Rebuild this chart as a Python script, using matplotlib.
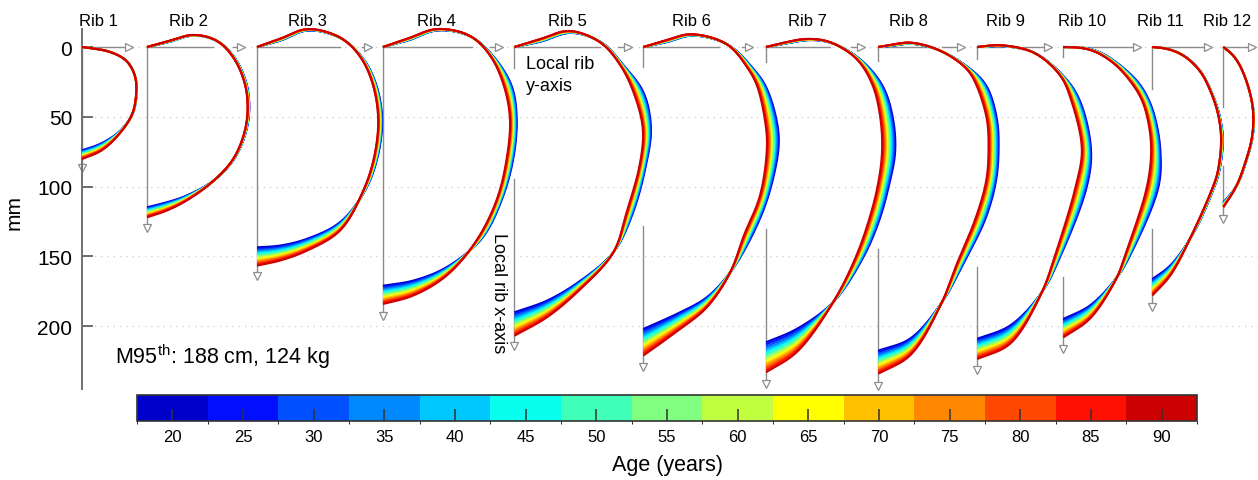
import numpy as np
import matplotlib
matplotlib.use("Agg")
import matplotlib.pyplot as plt
from matplotlib.colors import ListedColormap, BoundaryNorm
from matplotlib.colorbar import ColorbarBase

plt.rcParams['font.family'] = ['Liberation Sans', 'DejaVu Sans']
plt.rcParams['mathtext.fontset'] = 'custom'
plt.rcParams['mathtext.rm'] = 'Liberation Sans'
plt.rcParams['mathtext.it'] = 'Liberation Sans:italic'

# ---------------- data ----------------
AGES = [20, 25, 30, 35, 40, 45, 50, 55, 60, 65, 70, 75, 80, 85, 90]
AGE_COLORS = ['#0000CC', '#0010FF', '#0050FF', '#0088FF', '#00C8FF',
              '#08FFF0', '#40FFB8', '#80FF80', '#C0FF40', '#FFFF00',
              '#FFC000', '#FF8800', '#FF4800', '#FF1000', '#CC0000']
RIB_NAMES = ['Rib 1', 'Rib 2', 'Rib 3', 'Rib 4', 'Rib 5', 'Rib 6',
             'Rib 7', 'Rib 8', 'Rib 9', 'Rib 10', 'Rib 11', 'Rib 12']
Y_TICKS = [0, 50, 100, 150, 200]
SUBJECT = r'M95$^{\mathrm{th}}$: 188 cm, 124 kg'

# rib outlines in local rib coords (local y [mm] -> right, local x [mm] -> down)
# youngest (20 y) and oldest (90 y) shapes
RIB1_YOUNG = [(0, 0), (10.5, 1.4), (20, 3.4), (32, 9.8), (38, 20.5), (39.2, 30), (36.8, 46.8), (27, 60.5), (13, 69.5), (0, 74)]
RIB1_OLD = [(0, 0), (10.5, 1.4), (20, 3.4), (32, 9.8), (38, 20.5), (39.0, 30), (36.3, 47.5), (27, 62), (14, 74.3), (0, 80.2)]

RIB2_YOUNG = [(0, 0), (16, -3.6), (33, -8.4), (50, -4.5), (62.5, 7.2), (71, 25.3), (73.3, 43.2), (70.8, 61.1), (62.5, 80.2), (48, 95.5), (28.4, 106.5), (14, 111.3), (0, 114.8)]
RIB2_OLD = [(0, 0), (16, -4.4), (32.7, -8.8), (50, -4.6), (61.8, 7.4), (69.8, 25.3), (72.1, 43.2), (69.8, 61.1), (61.8, 80.2), (47.3, 96.2), (28.4, 110), (14, 117.3), (0, 122)]

RIB3_YOUNG = [(0, 0), (18, -5), (36, -12), (59.5, -6.6), (74.3, 6), (84.8, 25.3), (89.6, 51.6), (86, 80.2), (77, 103.5), (59.5, 125.6), (35.6, 137.5), (16.5, 142.3), (0, 143.5)]
RIB3_OLD = [(0, 0), (18, -6.5), (35.6, -13), (59.5, -6.9), (73.5, 6.3), (82.5, 25.3), (86.8, 51.6), (83.6, 80.2), (75.4, 104.5), (59.5, 131.6), (35.6, 146), (16.5, 153), (0, 156.6)]

RIB4_YOUNG = [(0, 0), (19, -5), (38.5, -12), (62.3, -7.8), (78.3, 5.8), (92.2, 27.7), (95.8, 51.6), (93.3, 80.2), (85.3, 108.9), (71, 137), (45.6, 157.8), (21.7, 167.4), (0, 171)]
RIB4_OLD = [(0, 0), (19, -6.5), (38.2, -13), (62.3, -8.1), (77, 6.4), (86.6, 27.7), (91, 51.6), (88.6, 80.2), (81.7, 108.9), (67.4, 138), (45.6, 163.8), (21.7, 178.1), (0, 184.1)]

RIB5_YOUNG = [(0, 0), (19.5, -4), (40, -10.3), (62.5, -3.3), (77.5, 12.5), (92.5, 32.5), (97.8, 58.7), (94.1, 85), (85, 118.4), (71, 147), (47.3, 167.4), (23.4, 181.7), (0, 190)]
RIB5_OLD = [(0, 0), (19.5, -6), (38.9, -11.7), (61.6, -3.3), (75.9, 13.1), (85.3, 32.5), (92, 58.7), (89.6, 85), (80.3, 118.4), (71, 147), (47.3, 173.4), (23.4, 193.6), (0, 206.8)]

RIB6_YOUNG = [(0, 0), (17, -3.5), (35, -8.3), (61, -1.5), (78.5, 15.3), (87.5, 27.7), (95.3, 51.6), (97, 70.7), (89.6, 106.5), (78.2, 134.5), (62.3, 161.4), (45.6, 179.3), (26.5, 190), (0, 202)]
RIB6_OLD = [(0, 0), (17, -5), (33.6, -9.3), (60, -2), (75.5, 16.3), (81.5, 27.7), (87, 51.6), (88.6, 70.7), (83.6, 106.5), (72.2, 134.5), (62.3, 161.4), (45.6, 186.5), (26.5, 202), (0, 221)]

RIB7_YOUNG = [(0, 0), (14.5, -2.5), (30, -5), (45.8, -3.3), (66.5, 8), (83.5, 27.7), (91, 51.6), (92.5, 75.5), (88, 99.4), (81.5, 123), (70, 150), (48.2, 182.7), (22, 202), (0, 211.5)]
RIB7_OLD = [(0, 0), (14.5, -3.5), (29.1, -5.9), (45.8, -3.6), (65, 8.6), (76.5, 27.7), (82, 51.6), (83.1, 75.5), (80, 99.4), (74, 123), (64.5, 150), (48.2, 182.7), (22, 218.7), (0, 233)]

RIB8_YOUNG = [(0, 0), (11.5, -1), (23, -2.5), (44.4, 2.6), (65, 15), (77.5, 27.7), (85, 51.6), (86.2, 70.7), (84.5, 95), (76.8, 123), (61, 155), (45.6, 182.9), (22.9, 209), (0, 217.5)]
RIB8_OLD = [(0, 0), (11.5, -2), (22.9, -3.3), (44.4, 2.6), (63.5, 15.8), (70.5, 27.7), (77.8, 51.6), (79, 70.7), (77.5, 95), (69.6, 123), (56.4, 155), (45.6, 182.9), (22.9, 221), (0, 234)]

RIB9_YOUNG = [(0, 0), (8, -0.3), (16.3, -0.8), (40.3, 3.8), (61, 20), (73, 37.2), (81.5, 73), (78.5, 100), (59.5, 150), (46.3, 175.7), (23.6, 199.6), (0, 209)]
RIB9_OLD = [(0, 0), (8, -1), (16.3, -1.4), (40.3, 3.8), (59.5, 20.4), (67, 37.2), (75, 73), (70.5, 100), (55.5, 150), (46.3, 175.7), (23.6, 212.7), (0, 223.5)]

RIB10_YOUNG = [(0, 0), (10, 0.1), (19, 1.3), (27, 4), (40, 12.5), (53.5, 25), (61, 37.2), (66, 51.6), (69.5, 73), (68.3, 100), (47.5, 150), (38.5, 165), (19.1, 185.3), (0, 194.8)]
RIB10_OLD = [(0, 0), (10, 0.3), (19, 1.9), (26.3, 5), (38.2, 13.4), (49.5, 26.5), (56, 37.2), (60.5, 51.6), (63, 73), (60, 100), (44, 150), (38.5, 165), (19.1, 194.8), (0, 208)]

RIB11_YOUNG = [(0, 0), (10.3, 1.1), (22.2, 5.8), (34.2, 16.8), (41.5, 30), (47.6, 46.8), (50.6, 65.9), (47.8, 89.8), (44.5, 100), (29.8, 132.8), (12.9, 156.6), (0, 166.2)]
RIB11_OLD = [(0, 0), (10.3, 1.2), (22.2, 6), (34, 17), (41, 30), (46.8, 46.8), (49.3, 65.9), (46.8, 89.8), (43.5, 100), (28.8, 133.5), (12.9, 163.8), (0, 178)]

RIB12_YOUNG = [(0, 0), (6.2, 5), (12, 13.4), (19, 32.5), (21.9, 49.2), (20.7, 65.9), (16.9, 80.2), (9.7, 99.3), (0, 111.3)]
RIB12_OLD = [(0, 0), (6.2, 5), (12, 13.4), (19, 32.5), (21.5, 49.2), (20.3, 65.9), (16.5, 80.2), (9.3, 99.8), (0, 114.8)]

RIBS_YOUNG = [RIB1_YOUNG, RIB2_YOUNG, RIB3_YOUNG, RIB4_YOUNG, RIB5_YOUNG, RIB6_YOUNG,
              RIB7_YOUNG, RIB8_YOUNG, RIB9_YOUNG, RIB10_YOUNG, RIB11_YOUNG, RIB12_YOUNG]
RIBS_OLD = [RIB1_OLD, RIB2_OLD, RIB3_OLD, RIB4_OLD, RIB5_OLD, RIB6_OLD,
            RIB7_OLD, RIB8_OLD, RIB9_OLD, RIB10_OLD, RIB11_OLD, RIB12_OLD]

# ---------------- layout (mm in plot coordinates) ----------------
RIB_ORIGIN_X = [0, 46.6, 125.4, 215.6, 309.8, 402.1, 490.0, 570.4, 641.3, 702.9, 766.7, 817.6]
RIB_LABEL_X = [11.5, 76.0, 161.5, 254.1, 347.8, 436.9, 519.3, 591.7, 661.2, 716.1, 772.8, 820.6]
H_AXIS_LEN = [36.5, 70.2, 82.2, 86.0, 84.0, 79.0, 70.9, 62.3, 53.5, 55.7, 42.8, 23.6]
H_AXIS_GAP = [None, (47.3, 61.6), (59.5, 75.0), (63.5, 76.6), (61.2, 74.1), (53.9, 70.7),
              (45.8, 61.1), (34.9, 45.6), (18.6, 33.0), None, None, None]
V_AXIS_LEN = [89.5, 132.5, 167.4, 196.0, 217.5, 231.9, 244.5, 245.7, 234.2, 219.4, 189.3, 126.1]
V_AXIS_GAP = [None, None, None, None, (15.0, 94.6), (14.5, 128.0), (11.0, 130.4), (9.8, 144.7),
              (8.6, 157.8), (7.2, 165.0), (30.0, 130.4), (43.2, 85.0)]


def catmull_centripetal(points, n=24, alpha=0.5):
    P = np.asarray(points, float)
    P = np.vstack([2 * P[0] - P[1], P, 2 * P[-1] - P[-2]])
    out = []
    for i in range(1, len(P) - 2):
        p0, p1, p2, p3 = P[i - 1], P[i], P[i + 1], P[i + 2]
        t0 = 0.0
        t1 = t0 + max(np.linalg.norm(p1 - p0), 1e-6) ** alpha
        t2 = t1 + max(np.linalg.norm(p2 - p1), 1e-6) ** alpha
        t3 = t2 + max(np.linalg.norm(p3 - p2), 1e-6) ** alpha
        t = np.linspace(t1, t2, n, endpoint=False)[:, None]
        a1 = (t1 - t) / (t1 - t0) * p0 + (t - t0) / (t1 - t0) * p1
        a2 = (t2 - t) / (t2 - t1) * p1 + (t - t1) / (t2 - t1) * p2
        a3 = (t3 - t) / (t3 - t2) * p2 + (t - t2) / (t3 - t2) * p3
        b1 = (t2 - t) / (t2 - t0) * a1 + (t - t0) / (t2 - t0) * a2
        b2 = (t3 - t) / (t3 - t1) * a2 + (t - t1) / (t3 - t1) * a3
        c = (t2 - t) / (t2 - t1) * b1 + (t - t1) / (t2 - t1) * b2
        out.append(c)
    out.append(P[-2][None])
    return np.vstack(out)


def smooth_path(c, step=0.4, sigma=3.0):
    seg = np.hypot(*np.diff(c, axis=0).T)
    s = np.concatenate([[0], np.cumsum(seg)])
    su = np.append(np.arange(0, s[-1], step), s[-1])
    P = np.column_stack([np.interp(su, s, c[:, 0]), np.interp(su, s, c[:, 1])])
    m = int(3 * sigma / step)
    if len(P) <= 2 * m + 2:
        return P
    pre = 2 * P[0] - P[m:0:-1]
    post = 2 * P[-1] - P[-2:-m - 2:-1]
    Q = np.vstack([pre, P, post])
    k = np.exp(-0.5 * ((np.arange(-m, m + 1) * step) / sigma) ** 2)
    k /= k.sum()
    xs = np.convolve(Q[:, 0], k, mode='valid')
    ys = np.convolve(Q[:, 1], k, mode='valid')
    return np.column_stack([xs, ys])


W, H = 1258, 481
fig = plt.figure(figsize=(W / 100, H / 100), dpi=100)
ax = fig.add_axes([82 / W, 1 - 390 / H, (W - 82) / W, 360 / H])
ax.set_xlim(0, (W - 82) / 1.396)
ax.set_ylim(245.0, -12.9)

for s in ['top', 'right', 'bottom']:
    ax.spines[s].set_visible(False)
ax.spines['left'].set_color('#707070')
ax.spines['left'].set_linewidth(1.4)
ax.set_xticks([])
ax.set_yticks(Y_TICKS)
ax.tick_params(axis='y', direction='in', length=8, width=1.2, color='#555555',
               labelsize=15, pad=7)
for yv in Y_TICKS:
    ax.axhline(yv, color='#cccccc', lw=0.9, ls=(0, (1, 4)), zorder=0)

AX_COL = '#8c8c8c'
for i in range(12):
    ox = RIB_ORIGIN_X[i]
    # horizontal local y-axis
    L = H_AXIS_LEN[i]
    gap = H_AXIS_GAP[i]
    segs = [(0, L - 3)] if gap is None else [(0, gap[0]), (gap[1], L - 3)]
    for a, b in segs:
        ax.plot([ox + a, ox + b], [0, 0], color=AX_COL, lw=1.0, zorder=1, clip_on=False)
    ax.plot([ox + L - 3], [0], marker='>', ms=6, mfc='white', mec=AX_COL, mew=0.9,
            zorder=2, clip_on=False)
    # vertical local x-axis
    L = V_AXIS_LEN[i]
    gap = V_AXIS_GAP[i]
    segs = [(0, L - 3)] if gap is None else [(0, gap[0]), (gap[1], L - 3)]
    for a, b in segs:
        ax.plot([ox, ox], [a, b], color=AX_COL, lw=1.0, zorder=1, clip_on=False)
    ax.plot([ox], [L - 3], marker='v', ms=6, mfc='white', mec=AX_COL, mew=0.9,
            zorder=2, clip_on=False)
    # title
    ax.text(RIB_LABEL_X[i], -19.3, RIB_NAMES[i], ha='center', va='center',
            fontsize=12, clip_on=False)

    # rib outlines per age
    young = np.asarray(RIBS_YOUNG[i], float)
    old = np.asarray(RIBS_OLD[i], float)
    for k, age in enumerate(AGES):
        w = (age - AGES[0]) / (AGES[-1] - AGES[0])
        pts = young + w * (old - young)
        c = smooth_path(catmull_centripetal(pts))
        ax.plot(ox + c[:, 0], c[:, 1], color=AGE_COLORS[k], lw=1.5,
                solid_capstyle='butt', zorder=3 + k * 0.01, clip_on=False)

ax.text(317.8, 19.7, 'Local rib\ny-axis', fontsize=13, ha='left', va='center',
        linespacing=1.4)
ax.text(298.0, 175.5, 'Local rib x-axis', fontsize=13, ha='center', va='center',
        rotation=-90)
ax.text(23.6, 221.0, SUBJECT, fontsize=15.5, ha='left', va='center')

fig.text(14 / W, 1 - 212 / H, 'mm', rotation=90, fontsize=15, ha='center', va='center')

# colorbar
cax = fig.add_axes([137 / W, 1 - 422 / H, 1060 / W, 26 / H])
cmap = ListedColormap(AGE_COLORS)
bounds = np.arange(AGES[0] - 2.5, AGES[-1] + 5, 5)
norm = BoundaryNorm(bounds, cmap.N)
cb = ColorbarBase(cax, cmap=cmap, norm=norm, orientation='horizontal', ticks=AGES)
cb.outline.set_edgecolor('#333333')
cb.outline.set_linewidth(1.2)
cax.tick_params(direction='in', length=9, width=1.1, color='#333333', labelsize=12, pad=6)
fig.text(668 / W, 1 - 466 / H, 'Age (years)', fontsize=15.5, ha='center', va='center')

fig.savefig('out.png', dpi=100)
